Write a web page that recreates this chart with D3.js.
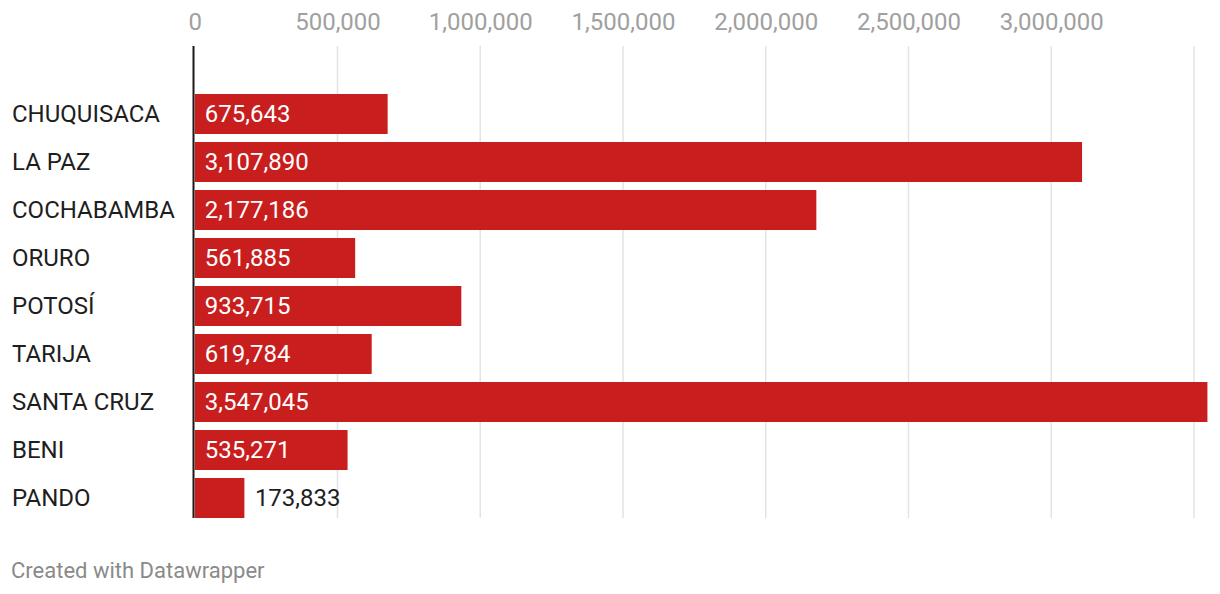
<!DOCTYPE html>
<html><head><meta charset="utf-8">
<script src="https://cdn.jsdelivr.net/npm/d3@7"></script>
<style>
body{margin:0;background:#fff;font-family:Roboto,sans-serif;}
</style></head>
<body><svg id="c" width="1220" height="594"></svg>
<script>
const categories = ["CHUQUISACA","LA PAZ","COCHABAMBA","ORURO","POTOSÍ","TARIJA","SANTA CRUZ","BENI","PANDO"];
const values = [675643,3107890,2177186,561885,933715,619784,3547045,535271,173833];
const tickValues = [0,500000,1000000,1500000,2000000,2500000,3000000];
const gridValues = [500000,1000000,1500000,2000000,2500000,3000000,3500000];

const svg = d3.select("#c");
const x = d3.scaleLinear().domain([0,3500000]).range([194.75,1194]);
const y = d3.scaleBand().domain(categories).range([90,522]).paddingInner(1/6).paddingOuter(1/12);
const fmt = d3.format(",");

// gridlines
svg.append("g").selectAll("line").data(gridValues).join("line")
  .attr("x1",d=>x(d)).attr("x2",d=>x(d)).attr("y1",46).attr("y2",518)
  .attr("stroke","#e3e3e3").attr("stroke-width",1.5);

// top axis labels
const ax = svg.append("g").attr("transform","translate(0,30)")
  .call(d3.axisTop(x).tickValues(tickValues).tickFormat(fmt).tickSize(0).tickPadding(0));
ax.select(".domain").remove();
ax.selectAll("text").attr("font-family","Roboto").attr("font-size",24).attr("fill","#a0a0a0")
  .attr("dy",0);

// bars
svg.append("g").selectAll("rect").data(values).join("rect")
  .attr("x",x(0)).attr("y",(d,i)=>y(categories[i]))
  .attr("width",d=>x(d)-x(0)).attr("height",y.bandwidth())
  .attr("fill","#c81e1e");

// zero line
svg.append("line").attr("x1",193.5).attr("x2",193.5).attr("y1",46).attr("y2",518)
  .attr("stroke","#1a1a1a").attr("stroke-width",2);

// category labels
svg.append("g").selectAll("text").data(categories).join("text")
  .attr("x",12).attr("y",d=>y(d)+y.bandwidth()/2).attr("dy","0.35em")
  .attr("font-family","Roboto").attr("font-size",24).attr("fill","#1e1e1e").text(d=>d);

// value labels
svg.append("g").selectAll("text").data(values).join("text")
  .each(function(d,i){
    const inside = (x(d)-x(0)) > 100;
    d3.select(this)
      .attr("x", inside ? x(0)+10 : x(d)+10.5)
      .attr("y", y(categories[i])+y.bandwidth()/2).attr("dy","0.35em")
      .attr("font-family","Roboto").attr("font-size",24)
      .attr("fill", inside ? "#ffffff" : "#1e1e1e")
      .text(fmt(d));
  });

// footer
svg.append("text").attr("x",11).attr("y",578).attr("font-family","Roboto").attr("font-size",22)
  .attr("fill","#8a8a8a").text("Created with Datawrapper");
</script></body></html>
